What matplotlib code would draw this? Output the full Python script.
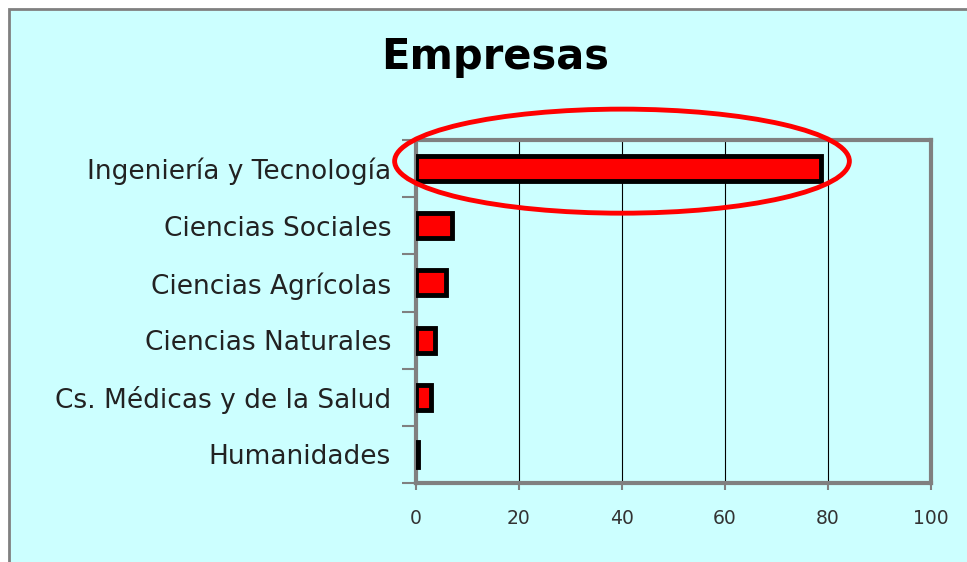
import matplotlib
import matplotlib.pyplot as plt
from matplotlib.patches import Ellipse, Rectangle

matplotlib.use("Agg")

categories = ["Ingeniería y Tecnología", "Ciencias Sociales", "Ciencias Agrícolas",
              "Ciencias Naturales", "Cs. Médicas y de la Salud", "Humanidades"]
values = [78.6, 7.0, 5.9, 3.6, 3.0, 0.3]
x_ticks = [0, 20, 40, 60, 80, 100]

BG = "#ccffff"
GRAY = "#808080"


def main():
    plt.rcParams["font.family"] = ["DejaVu Sans"]
    fig = plt.figure(figsize=(9.67, 5.62), dpi=100, facecolor="white")

    # outer frame of the slide
    fig.patches.append(Rectangle((9 / 967, -0.05), 1.1, 1 - 9 / 562 + 0.05,
                                 transform=fig.transFigure, facecolor=BG,
                                 edgecolor=GRAY, linewidth=2, zorder=-10))

    ax = fig.add_axes([416 / 967, 1 - 483 / 562, 515 / 967, 343 / 562])
    ax.set_facecolor(BG)

    n = len(categories)
    ypos = list(range(n - 1, -1, -1))
    ax.barh(ypos, values, height=0.44, color="red", edgecolor="black",
            linewidth=3.5, zorder=3)

    ax.set_xlim(0, 100)
    ax.set_ylim(-0.5, n - 0.5)
    ax.set_xticks(x_ticks)
    ax.set_xticklabels([str(t) for t in x_ticks], fontsize=13.5, color="#333333")
    ax.tick_params(axis="x", length=5, width=1.5, color=GRAY, pad=14)

    ax.set_yticks([y - 0.5 for y in range(n + 1)])
    ax.set_yticklabels([])
    ax.set_yticks(ypos, minor=True)
    ax.set_yticklabels(categories, minor=True, fontsize=19, color="#222222")
    ax.tick_params(axis="y", which="major", length=10, width=1.5, color=GRAY)
    ax.tick_params(axis="y", which="minor", length=0, pad=18)

    ax.grid(axis="x", color="black", linewidth=0.8, zorder=1)
    for s in ax.spines.values():
        s.set_color(GRAY)
        s.set_linewidth(3)

    # red highlight ellipse
    ax.add_patch(Ellipse((40, 5.13), 88.3, 1.82, fill=False, edgecolor="red",
                         linewidth=3.5, clip_on=False, zorder=5))

    fig.text(0.512, 0.899, "Empresas", ha="center", va="center",
             fontsize=30, fontweight="bold", color="black")

    fig.savefig("out.png", dpi=100, facecolor=fig.get_facecolor())
    plt.close(fig)


if __name__ == "__main__":
    main()
